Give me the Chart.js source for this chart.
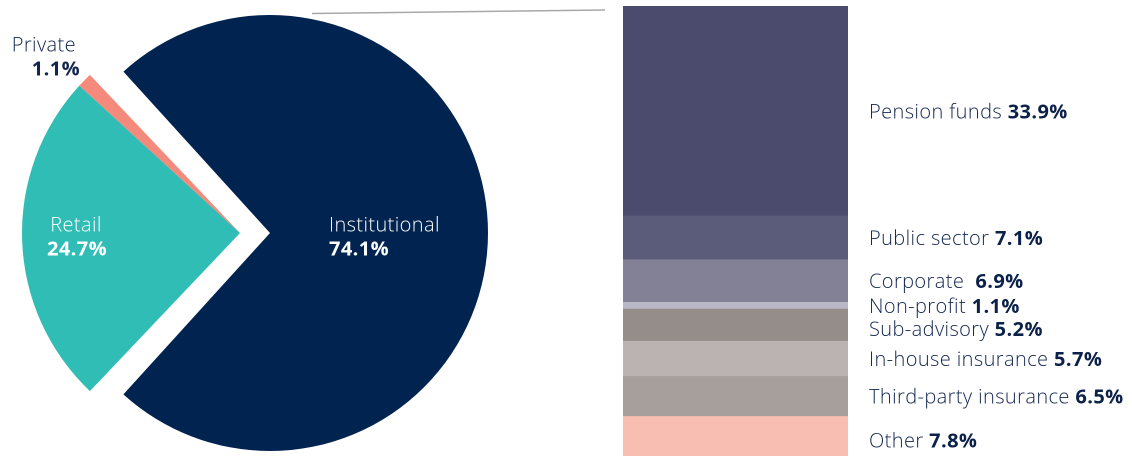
<!DOCTYPE html>
<html>
<head>
<meta charset="utf-8">
<script src="https://cdn.jsdelivr.net/npm/chart.js@4"></script>
<style>
  html, body { margin: 0; padding: 0; background: #fff; overflow: hidden; width: 1132px; height: 456px; }
  #pie { position: absolute; left: 0; top: 0; }
  #bar { position: absolute; left: 600px; top: 0; }
</style>
</head>
<body>
<canvas id="pie" width="620" height="456"></canvas>
<canvas id="bar" width="532" height="470"></canvas>
<script>
// Client type split (pie)
let pieLabels = ['Institutional', 'Retail', 'Private'];
let pieValues = [74.1, 24.7, 1.1];
let pieColors = ['#002350', '#2fbdb5', '#f48a7b'];

// Institutional breakdown (stacked bar)
let barLabels = ['Pension funds', 'Public sector', 'Corporate ', 'Non-profit', 'Sub-advisory',
  'In-house insurance', 'Third-party insurance', 'Other'];
let barValues = [33.9, 7.1, 6.9, 1.1, 5.2, 5.7, 6.5, 7.8];
let barColors = ['#4a4b6d', '#5b5c79', '#838196', '#b9b7c6', '#958d89', '#bab3b1', '#a79f9c', '#f9beb2'];

let lightFont = '300 20px "Open Sans", sans-serif';
let boldFont = 'bold 20px "Open Sans", sans-serif';
let navy = '#13264f';
let pieRadius = 218;
let explode = 30; // how far the Institutional slice is pulled out

Chart.defaults.animation = false;

// Chart.js grows an exploded big slice as well as moving it, so shrink it back.
let explodePlugin = {
  id: 'explode',
  afterDatasetUpdate(chart) {
    let arc = chart.getDatasetMeta(0).data[0];
    arc.outerRadius = pieRadius - explode;
  }
};

// Draw the two-line labels of the pie and the connector line.
let pieLabelPlugin = {
  id: 'pieLabels',
  afterDatasetsDraw(chart) {
    let ctx = chart.ctx;
    let arcs = chart.getDatasetMeta(0).data;
    let cx = arcs[1].x, cy = arcs[1].y;
    ctx.save();

    // connector to the bar
    ctx.strokeStyle = '#a8a8a8';
    ctx.lineWidth = 1.5;
    ctx.beginPath();
    ctx.moveTo(cx + 72, 13.5);
    ctx.lineTo(605, 10);
    ctx.stroke();

    ctx.letterSpacing = '0.4px';
    ctx.textBaseline = 'middle';
    // Institutional, left aligned inside the shifted slice
    ctx.fillStyle = '#ffffff';
    ctx.textAlign = 'left';
    ctx.font = lightFont;
    ctx.fillText(pieLabels[0], cx + 89, cy - 7);
    ctx.font = boldFont;
    ctx.fillText(pieValues[0].toFixed(1) + '%', cx + 89, cy + 17);

    // Retail, centered
    ctx.textAlign = 'center';
    ctx.font = lightFont;
    ctx.fillText(pieLabels[1], cx - 164, cy - 7);
    ctx.font = boldFont;
    ctx.fillText(pieValues[1].toFixed(1) + '%', cx - 163, cy + 17);

    // Private, outside
    ctx.fillStyle = navy;
    ctx.textAlign = 'right';
    ctx.font = lightFont;
    ctx.fillText(pieLabels[2], cx - 164, cy - 187);
    ctx.font = boldFont;
    ctx.fillText(pieValues[2].toFixed(1) + '%', cx - 160, cy - 163);
    ctx.restore();
  }
};

let pieTotal = pieValues.reduce((a, b) => a + b, 0);

new Chart(document.getElementById('pie'), {
  type: 'pie',
  data: {
    labels: pieLabels,
    datasets: [{
      data: pieValues,
      backgroundColor: pieColors,
      borderWidth: 0,
      offset: [explode * 4, 0, 0]
    }]
  },
  options: {
    responsive: false,
    devicePixelRatio: 2,
    radius: pieRadius,
    rotation: 90 - pieValues[0] / pieTotal * 180,
    layout: { padding: { left: 0, right: 140, top: 10, bottom: 0 } },
    plugins: { legend: { display: false }, tooltip: { enabled: false } }
  },
  plugins: [explodePlugin, pieLabelPlugin]
});

// Labels to the right of each bar segment.
let barLabelPlugin = {
  id: 'barLabels',
  afterDatasetsDraw(chart) {
    let ctx = chart.ctx;
    let x = chart.chartArea.right + 21;
    let lastY = -100;
    ctx.save();
    ctx.letterSpacing = '0.4px';
    ctx.textBaseline = 'middle';
    ctx.textAlign = 'left';
    chart.data.datasets.forEach((ds, i) => {
      let bar = chart.getDatasetMeta(i).data[0];
      let y = (bar.y + bar.base) / 2 + 2;
      if (y - lastY < 23) y = lastY + 23;
      lastY = y;
      ctx.font = lightFont;
      ctx.fillStyle = navy;
      let name = ds.label + ' ';
      ctx.fillText(name, x, y);
      let w = ctx.measureText(name).width;
      ctx.font = boldFont;
      ctx.fillStyle = '#0c2149';
      ctx.fillText(ds.data[0].toFixed(1) + '%', x + w, y);
    });
    ctx.restore();
  }
};

let barTotal = barValues.reduce((a, b) => a + b, 0);

new Chart(document.getElementById('bar'), {
  type: 'bar',
  data: {
    labels: ['Institutional'],
    datasets: barLabels.map((label, i) => ({
      label: label,
      data: [barValues[i]],
      backgroundColor: barColors[i],
      borderWidth: 0,
      barPercentage: 1,
      categoryPercentage: 1
    }))
  },
  options: {
    responsive: false,
    devicePixelRatio: 2,
    layout: { padding: { left: 23, right: 284, top: 6, bottom: 6 } },
    scales: {
      x: { stacked: true, display: false },
      y: { stacked: true, display: false, reverse: true, min: 0, max: barTotal }
    },
    plugins: { legend: { display: false }, tooltip: { enabled: false } }
  },
  plugins: [barLabelPlugin]
});
</script>
</body>
</html>
